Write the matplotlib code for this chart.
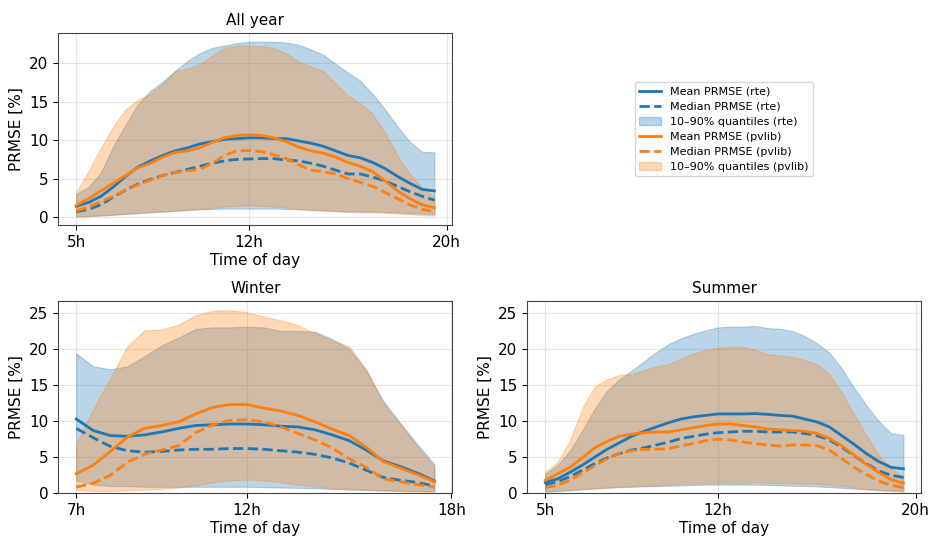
import numpy as np
import matplotlib
matplotlib.use("Agg")
import matplotlib.pyplot as plt
from matplotlib.lines import Line2D
from matplotlib.patches import Patch

# ---------------- data ----------------
hours_day = np.arange(5.0, 19.51, 0.5)      # all year & summer, half-hourly
hours_winter = np.arange(7.0, 17.51, 0.5)   # winter, half-hourly

# All year
all_rte_mean = [1.4, 1.9, 2.7, 3.9, 5.3, 6.5, 7.3, 8.0, 8.6, 9.0, 9.5, 9.8, 10.1, 10.2, 10.3,
                10.3, 10.2, 10.2, 9.9, 9.6, 9.2, 8.6, 8.0, 7.7, 7.1, 6.3, 5.3, 4.4, 3.6, 3.4]
all_rte_median = [0.7, 1.0, 1.6, 2.6, 3.5, 4.3, 4.9, 5.4, 5.8, 6.2, 6.6, 7.0, 7.3, 7.5, 7.55,
                  7.6, 7.6, 7.4, 7.3, 7.0, 6.6, 6.1, 5.6, 5.6, 5.2, 4.7, 4.0, 3.3, 2.7, 2.2]
all_rte_q10 = [0.1, 0.15, 0.2, 0.3, 0.4, 0.5, 0.6, 0.7, 0.8, 0.9, 1.0, 1.05, 1.1, 1.1, 1.1,
               1.1, 1.1, 1.05, 1.0, 0.9, 0.85, 0.8, 0.75, 0.7, 0.7, 0.65, 0.6, 0.5, 0.45, 0.4]
all_rte_q90 = [3.0, 3.9, 5.8, 9.2, 12.0, 14.7, 16.4, 17.6, 19.0, 20.3, 21.3, 22.0, 22.3, 22.6, 22.8,
               22.8, 22.8, 22.7, 22.4, 21.8, 21.1, 19.9, 18.8, 17.7, 16.0, 14.0, 11.8, 9.8, 8.5, 8.4]
all_pv_mean = [1.5, 2.4, 3.4, 4.4, 5.4, 6.4, 7.0, 7.8, 8.4, 8.6, 9.0, 9.7, 10.3, 10.6, 10.7,
               10.6, 10.3, 9.8, 9.1, 8.6, 8.3, 7.8, 7.1, 6.6, 5.9, 4.7, 3.4, 2.4, 1.6, 1.2]
all_pv_median = [0.8, 1.3, 2.0, 2.7, 3.5, 4.2, 4.8, 5.4, 5.8, 6.0, 6.2, 7.0, 8.0, 8.6, 8.65,
                 8.5, 8.1, 7.6, 6.8, 6.1, 5.9, 5.6, 5.0, 4.5, 4.0, 3.2, 2.4, 1.6, 1.0, 0.7]
all_pv_q10 = [0.05, 0.1, 0.2, 0.3, 0.45, 0.55, 0.65, 0.75, 0.85, 0.95, 1.05, 1.2, 1.35, 1.45, 1.5,
              1.45, 1.35, 1.2, 1.05, 0.95, 0.85, 0.75, 0.65, 0.6, 0.6, 0.55, 0.45, 0.35, 0.25, 0.2]
all_pv_q90 = [3.2, 6.0, 9.0, 11.8, 14.0, 15.3, 16.0, 17.3, 19.0, 19.3, 19.9, 21.0, 22.0, 22.3, 22.3,
              22.2, 22.0, 21.3, 20.2, 19.6, 19.0, 17.4, 15.8, 14.8, 13.4, 11.0, 8.0, 5.6, 3.8, 2.6]

# Winter
win_rte_mean = [10.3, 8.7, 8.0, 7.9, 8.1, 8.5, 9.0, 9.4, 9.5, 9.6, 9.6,
                9.5, 9.3, 9.2, 8.8, 8.1, 7.3, 6.0, 4.5, 3.7, 2.8, 1.7]
win_rte_median = [9.0, 7.7, 6.5, 5.9, 5.7, 5.8, 6.0, 6.1, 6.1, 6.2, 6.2,
                  6.1, 5.9, 5.7, 5.4, 4.9, 4.2, 3.2, 2.2, 1.8, 1.5, 1.0]
win_rte_q10 = [1.8, 1.2, 1.0, 1.0, 0.9, 0.9, 0.9, 0.9, 0.9, 0.9, 0.9,
               0.85, 0.8, 0.75, 0.7, 0.6, 0.5, 0.45, 0.4, 0.35, 0.3, 0.3]
win_rte_q90 = [19.4, 17.6, 17.2, 17.6, 19.0, 20.5, 21.6, 22.8, 23.0, 23.0, 23.1,
               23.0, 22.5, 22.5, 22.4, 21.4, 20.0, 17.0, 12.8, 9.7, 6.8, 4.0]
win_pv_mean = [2.7, 3.9, 5.8, 7.8, 9.0, 9.4, 9.9, 11.0, 11.9, 12.3, 12.3,
               11.8, 11.4, 10.8, 9.9, 8.9, 8.0, 6.4, 4.4, 3.5, 2.6, 1.6]
win_pv_median = [0.85, 1.4, 2.5, 4.3, 5.4, 6.0, 6.6, 8.4, 9.5, 10.1, 10.2,
                 9.9, 9.2, 8.3, 7.4, 6.3, 4.8, 3.6, 2.0, 1.6, 1.2, 0.85]
win_pv_q10 = [0.5, 0.3, 0.3, 0.4, 0.5, 0.6, 0.8, 1.1, 1.5, 1.8, 1.9,
              1.8, 1.5, 1.2, 0.9, 0.7, 0.6, 0.5, 0.4, 0.3, 0.25, 0.2]
win_pv_q90 = [6.9, 11.7, 16.0, 20.4, 22.6, 22.7, 23.4, 24.7, 25.3, 25.4, 25.1,
              24.5, 24.0, 23.3, 22.2, 21.2, 20.4, 17.2, 12.5, 9.6, 6.5, 3.6]

# Summer
sum_rte_mean = [1.5, 2.0, 2.9, 3.9, 5.0, 6.1, 7.0, 7.9, 8.6, 9.2, 9.8, 10.3, 10.6, 10.8, 11.0,
                11.0, 11.0, 11.05, 10.95, 10.8, 10.7, 10.3, 9.9, 9.2, 8.0, 6.8, 5.5, 4.4, 3.6, 3.4]
sum_rte_median = [1.2, 1.6, 2.3, 3.2, 4.1, 4.9, 5.5, 6.0, 6.3, 6.7, 7.1, 7.6, 7.9, 8.2, 8.4,
                  8.5, 8.6, 8.6, 8.5, 8.5, 8.5, 8.3, 8.0, 7.4, 6.4, 5.2, 4.1, 3.1, 2.5, 2.2]
sum_rte_q10 = [0.2, 0.3, 0.4, 0.55, 0.65, 0.75, 0.85, 0.9, 0.95, 1.0, 1.05, 1.1, 1.15, 1.2, 1.2,
               1.2, 1.2, 1.2, 1.15, 1.1, 1.05, 1.0, 0.95, 0.85, 0.75, 0.65, 0.55, 0.45, 0.4, 0.35]
sum_rte_q90 = [2.7, 3.9, 5.9, 8.7, 11.7, 14.2, 15.8, 17.0, 18.3, 19.6, 20.7, 21.5, 22.1, 22.6, 23.0,
               23.1, 23.1, 23.2, 22.9, 22.8, 22.5, 21.8, 20.8, 19.5, 17.3, 14.6, 12.2, 10.0, 8.3, 8.1]
sum_pv_mean = [1.8, 2.7, 3.6, 4.9, 6.3, 7.2, 7.9, 8.2, 8.4, 8.5, 8.5, 8.8, 9.1, 9.4, 9.6,
               9.6, 9.4, 9.2, 8.9, 8.8, 8.7, 8.6, 8.3, 7.6, 6.6, 5.3, 4.0, 2.9, 1.9, 1.4]
sum_pv_median = [0.8, 1.1, 1.8, 2.8, 3.8, 4.8, 5.5, 5.9, 6.1, 6.1, 6.2, 6.6, 6.9, 7.3, 7.5,
                 7.4, 7.1, 6.9, 6.7, 6.55, 6.7, 6.7, 6.6, 6.0, 4.8, 3.6, 2.6, 1.7, 1.1, 0.8]
sum_pv_q10 = [0.3, 0.4, 0.5, 0.6, 0.7, 0.8, 0.9, 1.0, 1.05, 1.1, 1.2, 1.3, 1.35, 1.4, 1.45,
              1.45, 1.4, 1.5, 1.45, 1.4, 1.35, 1.35, 1.3, 1.15, 1.0, 0.8, 0.6, 0.45, 0.3, 0.2]
sum_pv_q90 = [3.0, 4.3, 7.3, 11.8, 14.8, 15.8, 16.4, 16.5, 17.1, 17.6, 17.9, 18.7, 19.4, 19.9, 20.2,
              20.3, 20.3, 19.9, 19.3, 19.1, 18.9, 18.5, 17.9, 16.5, 14.0, 11.0, 8.0, 5.3, 3.5, 2.3]

titles = ["All year", "Winter", "Summer"]
tick_hours = [[5, 12, 20], [7, 12, 18], [5, 12, 20]]
tick_labels = [["5h", "12h", "20h"], ["7h", "12h", "18h"], ["5h", "12h", "20h"]]

BLUE = "#1f77b4"
ORANGE = "#ff7f0e"
FS = 11

fig = plt.figure(figsize=(9.3, 5.36), dpi=100)
ax_all = fig.add_axes([0.0627, 0.5795, 0.4237, 0.359])
ax_win = fig.add_axes([0.0627, 0.0797, 0.4237, 0.3587])
ax_sum = fig.add_axes([0.5670, 0.0797, 0.4237, 0.3587], sharey=ax_win)

panels = [
    (ax_all, hours_day, all_rte_mean, all_rte_median, all_rte_q10, all_rte_q90,
     all_pv_mean, all_pv_median, all_pv_q10, all_pv_q90),
    (ax_win, hours_winter, win_rte_mean, win_rte_median, win_rte_q10, win_rte_q90,
     win_pv_mean, win_pv_median, win_pv_q10, win_pv_q90),
    (ax_sum, hours_day, sum_rte_mean, sum_rte_median, sum_rte_q10, sum_rte_q90,
     sum_pv_mean, sum_pv_median, sum_pv_q10, sum_pv_q90),
]

for i, (ax, x, rm, rmed, rlo, rhi, pm, pmed, plo, phi) in enumerate(panels):
    ax.plot(x, rm, color=BLUE, lw=2, zorder=3)
    ax.plot(x, rmed, color=BLUE, lw=2, ls="--", zorder=3)
    ax.fill_between(x, rlo, rhi, color=BLUE, alpha=0.3, lw=0.8, zorder=2)
    ax.plot(x, pm, color=ORANGE, lw=2, zorder=3)
    ax.plot(x, pmed, color=ORANGE, lw=2, ls="--", zorder=3)
    ax.fill_between(x, plo, phi, color=ORANGE, alpha=0.3, lw=0.8, zorder=2)
    ax.set_title(titles[i], fontsize=FS)
    ax.set_xlabel("Time of day", fontsize=FS, labelpad=2)
    ax.set_ylabel("PRMSE [%]", fontsize=FS)
    ax.set_xticks(tick_hours[i])
    ax.set_xticklabels(tick_labels[i])
    ax.tick_params(labelsize=FS)
    ax.grid(True, color="#cccccc", alpha=0.5, lw=0.8)
    for s in ax.spines.values():
        s.set_color("#444444")

ax_win.set_ylim(bottom=0)
ax_win.set_yticks([0, 5, 10, 15, 20, 25])
ax_all.set_yticks([0, 5, 10, 15, 20])

handles = [
    Line2D([], [], color=BLUE, lw=2, label="Mean PRMSE (rte)"),
    Line2D([], [], color=BLUE, lw=2, ls="--", label="Median PRMSE (rte)"),
    Patch(facecolor=BLUE, alpha=0.3, edgecolor=BLUE, label="10–90% quantiles (rte)"),
    Line2D([], [], color=ORANGE, lw=2, label="Mean PRMSE (pvlib)"),
    Line2D([], [], color=ORANGE, lw=2, ls="--", label="Median PRMSE (pvlib)"),
    Patch(facecolor=ORANGE, alpha=0.3, edgecolor=ORANGE, label="10–90% quantiles (pvlib)"),
]
fig.legend(handles=handles, loc="center", bbox_to_anchor=(0.7785, 0.7593),
           fontsize=8, frameon=True, labelspacing=0.45)

fig.savefig("out.png", dpi=100)
